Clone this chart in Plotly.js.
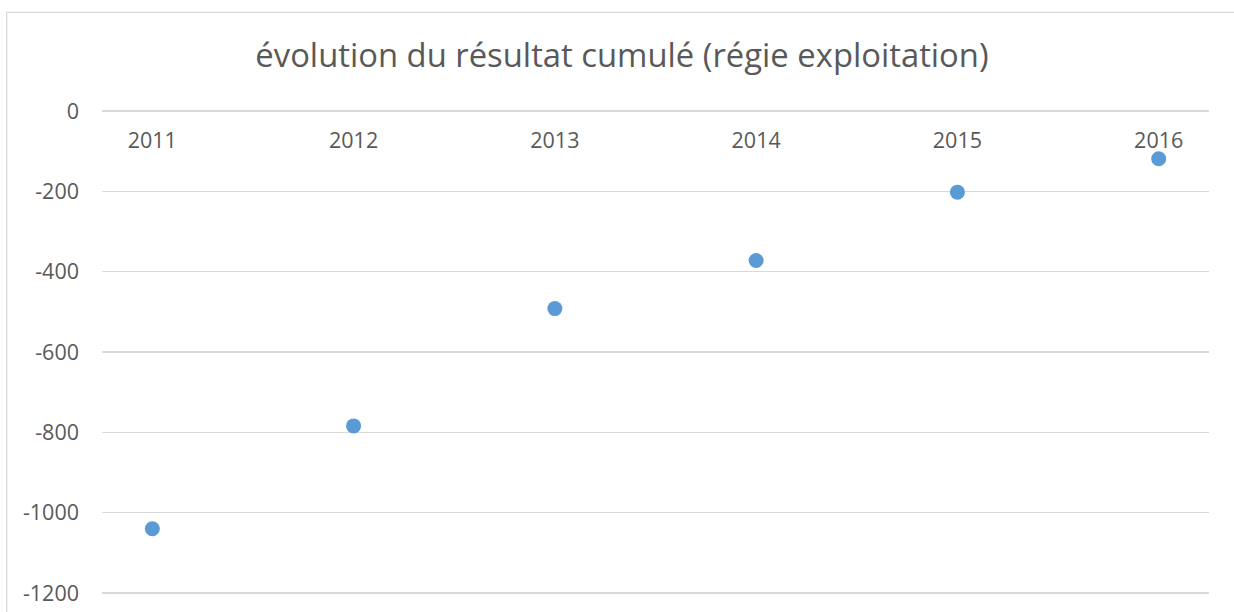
<!DOCTYPE html>
<html>
<head>
<meta charset="utf-8">
<script src="https://cdn.plot.ly/plotly-3.0.1.min.js"></script>
<style>html,body{margin:0;padding:0;background:#fff;}#chart{width:1234px;height:612px;}</style>
</head>
<body>
<div id="chart"></div>
<script>
const years = [2011, 2012, 2013, 2014, 2015, 2016];
const yearLabels = ["2011", "2012", "2013", "2014", "2015", "2016"];
const cumulativeResult = [-1040, -784, -492, -372, -202, -119];
const yTicks = [0, -200, -400, -600, -800, -1000, -1200];
const yTickLabels = ["0", "-200", "-400", "-600", "-800", "-1000", "-1200"];

const FONT = "'Open Sans', sans-serif";
const W = 1234, H = 612;
// pixel geometry of the reference grid (0 at 110.7, -1200 at 592.7)
const y0px = 110.7, y1200px = 592.7;
const pxPerUnit = (y1200px - y0px) / 1200;
const pad = 10; // extra data units above/below so edge gridlines are drawn
const plotL = 102, plotR = 1209;
const plotT = y0px - pad * pxPerUnit, plotB = y1200px + pad * pxPerUnit;
const pw = plotR - plotL, ph = plotB - plotT;

const trace = {
  x: years,
  y: cumulativeResult,
  type: 'scatter',
  mode: 'markers',
  marker: {color: '#5b9bd5', size: 15},
  hoverinfo: 'x+y'
};

const layout = {
  width: W, height: H,
  paper_bgcolor: '#ffffff', plot_bgcolor: '#ffffff',
  margin: {l: plotL, r: W - plotR, t: plotT, b: H - plotB, pad: 0},
  showlegend: false,
  font: {family: FONT, color: '#595959', size: 21},
  title: {
    text: 'évolution du résultat cumulé (régie exploitation)',
    font: {family: FONT, size: 32.8, color: '#595959'},
    xref: 'container', x: 622 / W, xanchor: 'center',
    yref: 'container', y: 1 - 56 / H, yanchor: 'middle'
  },
  xaxis: {
    range: [2010.75, 2016.25],
    tickvals: years, ticktext: yearLabels,
    anchor: 'free', position: (1200 + pad) / (1200 + 2 * pad), side: 'bottom',
    showgrid: false, zeroline: false, showline: false,
    ticks: '', ticklabelstandoff: 14,
    tickfont: {family: FONT, size: 21.5, color: '#595959'}
  },
  yaxis: {
    range: [-1200 - pad, pad],
    tickvals: yTicks, ticktext: yTickLabels,
    showgrid: true, gridcolor: '#d9d9d9', gridwidth: 1.3,
    zeroline: false, showline: false, ticks: '',
    ticklabelstandoff: 22,
    tickfont: {family: FONT, size: 21.5, color: '#595959'}
  },
  shapes: [{
    type: 'rect', xref: 'paper', yref: 'paper',
    x0: (6.7 - plotL) / pw, x1: (W + 10 - plotL) / pw,
    y0: (plotB - (H + 10)) / ph, y1: (plotB - 12) / ph,
    line: {color: '#d9d9d9', width: 1.3}, fillcolor: 'rgba(0,0,0,0)', layer: 'below'
  }]
};

Plotly.newPlot('chart', [trace], layout, {displayModeBar: false, staticPlot: true});
</script>
</body>
</html>
